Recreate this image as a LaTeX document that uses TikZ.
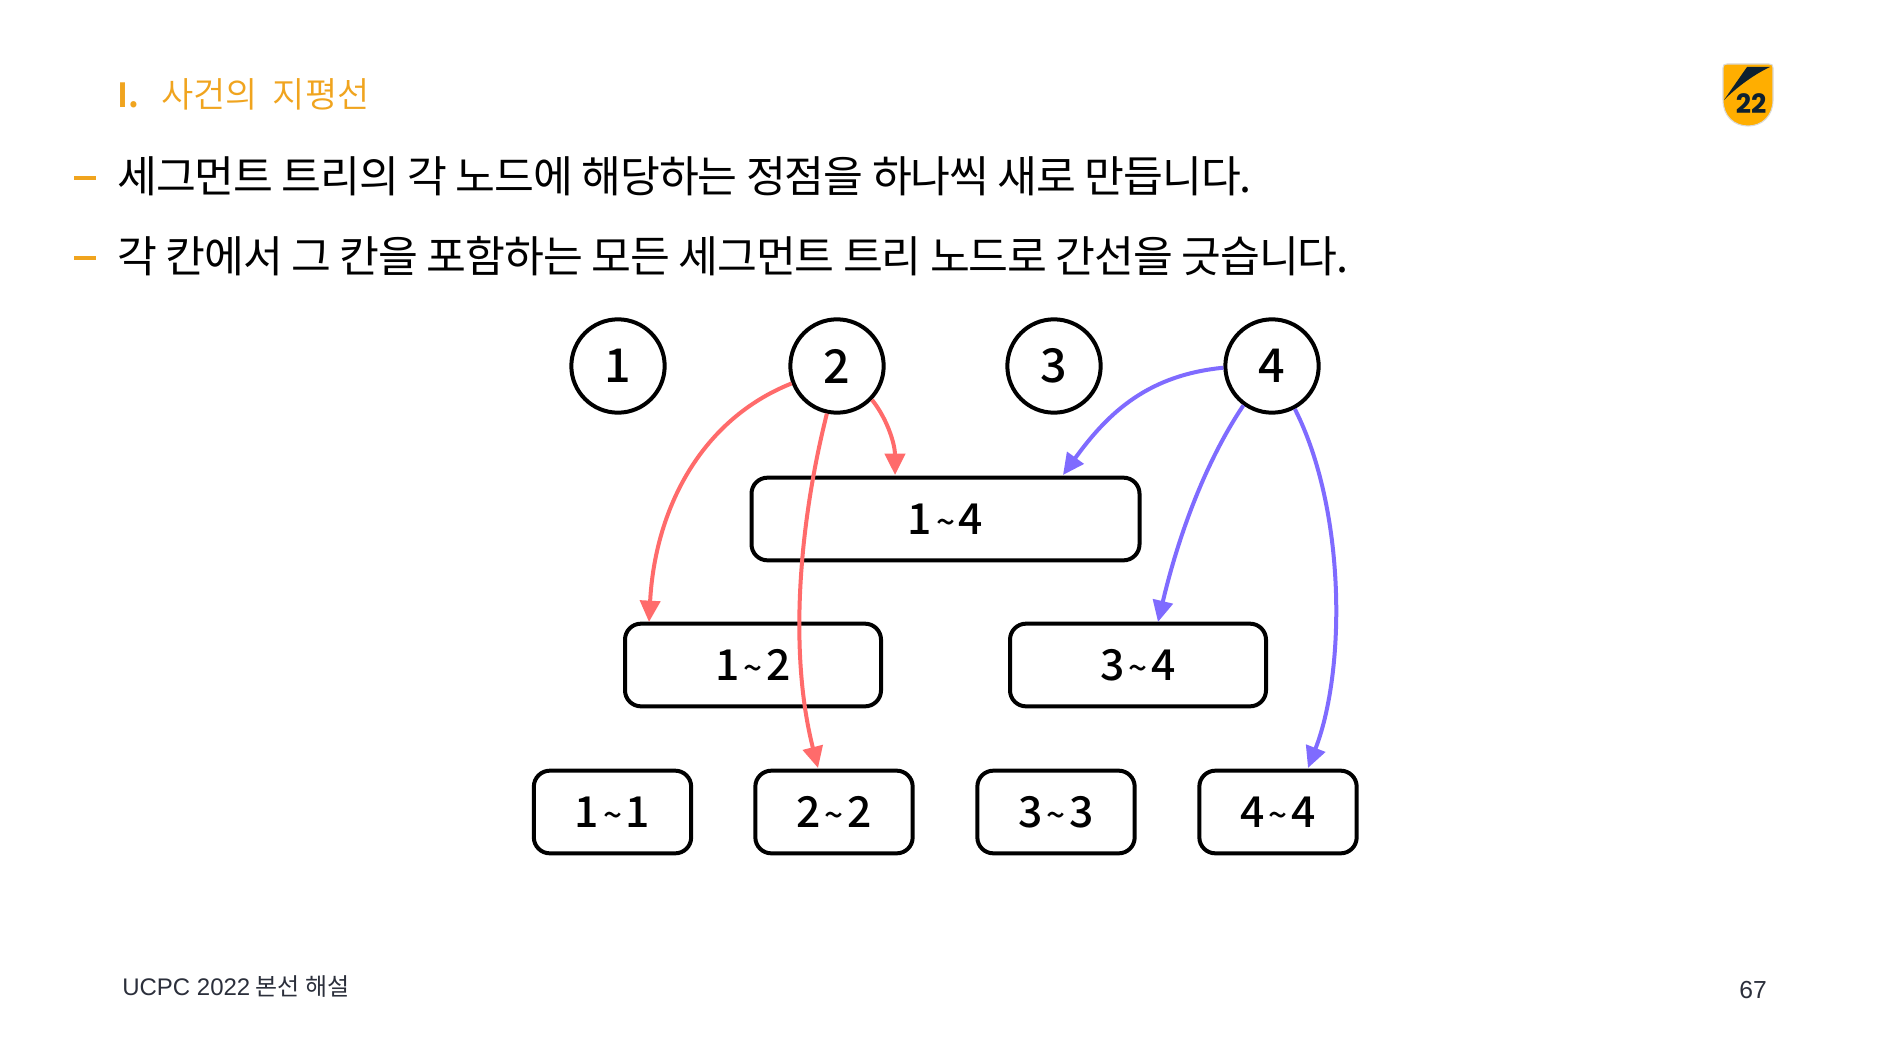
\documentclass[tikz,border=0pt]{standalone}
\usepackage{fontspec}
\usetikzlibrary{arrows.meta,calc}
\setmainfont{Noto Sans CJK KR}
\newfontfamily\korfont[LetterSpace=-2.7]{Noto Sans CJK KR}
\newfontfamily\titlefont{Noto Sans CJK KR DemiLight}
\newfontfamily\digitfont{Noto Sans CJK KR Medium}
\newfontfamily\footfont{Noto Sans CJK KR}
\newfontfamily\footlatin{Liberation Sans}
\newfontfamily\logofont{Poppins}
\definecolor{accent}{HTML}{F0A41E}
\definecolor{redarc}{HTML}{FF6B6B}
\definecolor{violetarc}{HTML}{7F6BFF}
\definecolor{footgray}{HTML}{2B2F3B}
\definecolor{logoamber}{HTML}{FFAE00}
\definecolor{logonavy}{HTML}{0D2030}
\newcommand{\rng}[2]{#1\hspace{0.09em}{\fontsize{25}{25}\selectfont\textasciitilde}\hspace{0.09em}#2\hspace{0.2em}}
\tikzset{
  numcircle/.style={circle,draw=black,line width=3pt,minimum size=70pt,inner sep=0pt,fill=white,
    font=\digitfont\fontsize{35}{35}\selectfont},
  rangebox/.style={rectangle,rounded corners=12pt,draw=black,line width=3pt,inner sep=0pt,
    minimum height=62pt,font=\digitfont\fontsize{32}{32}\selectfont},
  bodyline/.style={anchor=base west,inner sep=0pt,font=\korfont\fontsize{32.5}{32.5}\selectfont,text=black},
  dashmark/.style={fill=accent,draw=none,minimum width=17pt,minimum height=3pt,inner sep=0pt},
  redcon/.style={draw=redarc,line width=3pt,-{Triangle[length=16pt,width=15pt]}},
  violetcon/.style={draw=violetarc,line width=3pt,-{Triangle[length=16pt,width=15pt]}},
}
\begin{document}
\begin{tikzpicture}[x=0.75pt,y=-0.75pt]
\useasboundingbox (0,0) rectangle (1890,1063);
\fill[white] (0,0) rectangle (1890,1063);
% header
\node[anchor=base west,inner sep=0pt,text=accent,font=\titlefont\bfseries\fontsize{25}{25}\selectfont] (roman) at (117,107) {I.};
\node[anchor=base west,inner sep=0pt,text=accent,font=\titlefont\fontsize{26.3}{26.3}\selectfont] (title) at (161,107.5) {사건의\hspace{0.42em}지평선};
\node[dashmark] (dash1) at (85,178) {};
\node[dashmark] (dash2) at (85,258) {};
\node[bodyline] (line1) at (117,192.5) {세그먼트 트리의 각 노드에 해당하는 정점을 하나씩 새로 만듭니다.};
\node[bodyline] (line2) at (117,272.5) {각 칸에서 그 칸을 포함하는 모든 세그먼트 트리 노드로 간선을 긋습니다.};
% logo
\path[fill=logoamber,draw=black!15,line width=0.8pt] (1723,68) .. controls (1723,65) and (1724,64) .. (1727,64) -- (1769,64) .. controls (1772,64) and (1773,65) .. (1773,68) -- (1773,100) .. controls (1773,116) and (1762,126) .. (1748,126) .. controls (1734,126) and (1723,116) .. (1723,100) -- cycle;
\fill[logonavy] (1747,67) -- (1770,67) .. controls (1755,74) and (1738,86) .. (1724,100) -- cycle;
\node[inner sep=0pt,text=logonavy,font=\logofont\bfseries\fontsize{20}{20}\selectfont] (logotext) at (1751,104) {22};
% circles
\node[numcircle] (c1) at (618,366) {1};
\node[numcircle] (c2) at (837,366) {2};
\node[numcircle] (c3) at (1054,366) {3};
\node[numcircle] (c4) at (1272,366) {4};
% boxes
\node[rangebox,minimum width=291pt] (b14) at (945.5,519) {\rng{1}{4}};
\node[rangebox,minimum width=192pt] (b12) at (753,665) {\rng{1}{2}};
\node[rangebox,minimum width=192pt] (b34) at (1138,665) {\rng{3}{4}};
\node[rangebox,minimum width=118pt] (b11) at (612.5,812) {\rng{1}{1}};
\node[rangebox,minimum width=118pt] (b22) at (834,812) {\rng{2}{2}};
\node[rangebox,minimum width=118pt] (b33) at (1056,812) {\rng{3}{3}};
\node[rangebox,minimum width=118pt] (b44) at (1278,812) {\rng{4}{4}};
% arrow targets
\coordinate (t14r) at (895,475);
\coordinate (t14v) at (1063,475);
\coordinate (t12) at (649,622);
\coordinate (t22) at (818,768);
\coordinate (t34) at (1158,622);
\coordinate (t44) at (1308,768);
% connectors
\draw[redcon] (c2.201) .. controls (700,420) and (655,510) .. (t12);
\draw[redcon] (c2.316) .. controls (888,420) and (895,445) .. (t14r);
\draw[redcon] (c2.258) .. controls (800,520) and (788,650) .. (t22);
\draw[violetcon] (c4.182) .. controls (1150,375) and (1110,410) .. (t14v);
\draw[violetcon] (c4.234) .. controls (1200,470) and (1175,550) .. (t34);
\draw[violetcon] (c4.298) .. controls (1346,510) and (1346,670) .. (t44);
% footer
\node[anchor=base west,inner sep=0pt,text=footgray,font=\footfont\fontsize{18}{18}\selectfont] (foot) at (122,995.5) {{\footlatin\fontsize{18}{18}\selectfont UCPC 2022} 본선 해설};
\node[anchor=base east,inner sep=0pt,text=footgray,font=\footlatin\fontsize{18.5}{18.5}\selectfont] (page) at (1767,998.5) {67};
\end{tikzpicture}
\end{document}
